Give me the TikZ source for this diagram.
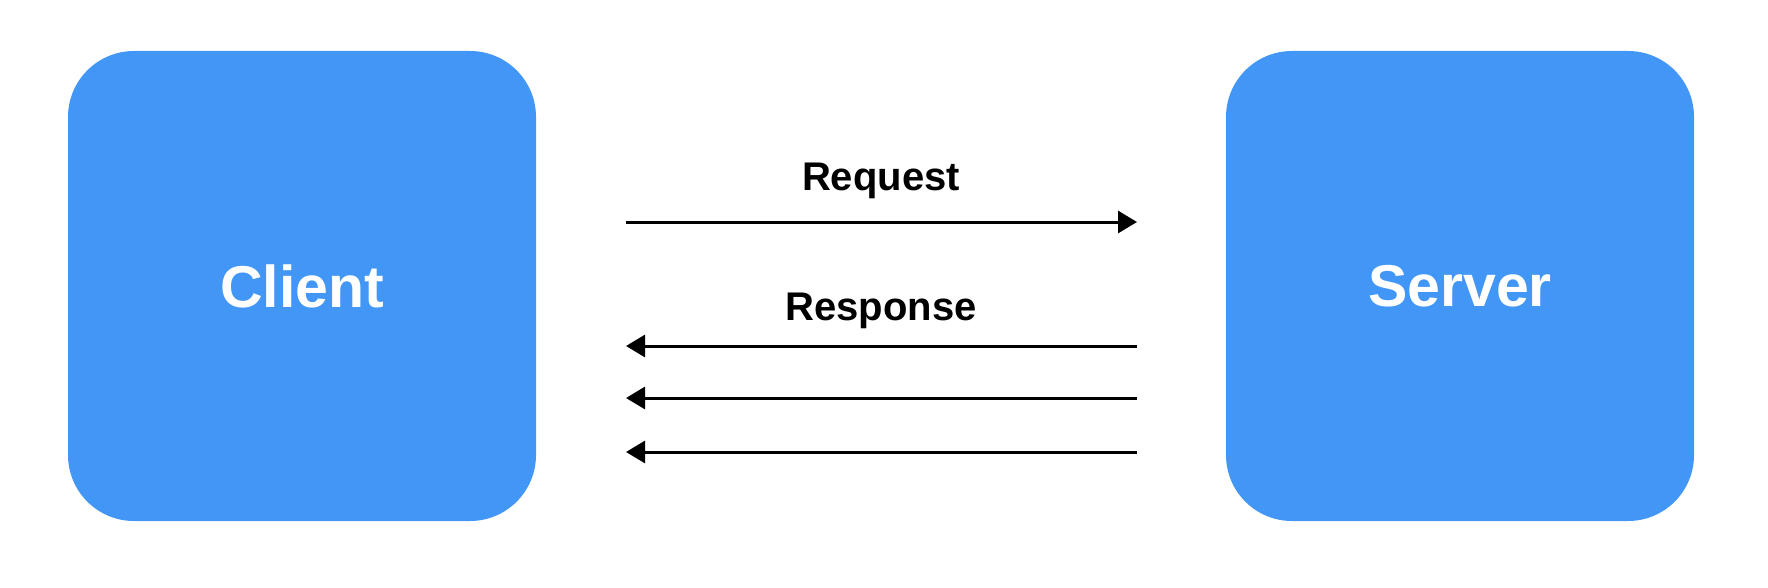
\documentclass[tikz,border=0pt]{standalone}
\usepackage{fontspec}
\setmainfont{Liberation Sans}
\usetikzlibrary{arrows.meta}
\definecolor{boxblue}{HTML}{4297F6}
\begin{document}
\begin{tikzpicture}[x=1pt,y=-1pt,
  box/.style={fill=boxblue,rounded corners=66pt,minimum width=468pt,minimum height=470pt,inner sep=0pt,
    text=white,font=\fontsize{59}{63}\selectfont\bfseries},
  lbl/.style={font=\fontsize{40}{44}\selectfont\bfseries,inner sep=0pt},
  msg/.style={line width=3pt,-{Triangle[length=19pt,width=22pt]}}]
\useasboundingbox (0,0) rectangle (1768,588);
\node[box] (client) at (302,286) {Client};
\node[box] (server) at (1460,286) {Server};
\coordinate (qa) at (626,222); \coordinate (qb) at (1137,222);
\coordinate (ra) at (1137,346); \coordinate (rb) at (626,346);
\coordinate (sa) at (1137,398); \coordinate (sb) at (626,398);
\coordinate (ta) at (1137,452); \coordinate (tb) at (626,452);
\draw[msg] (qa) -- (qb);
\draw[msg] (ra) -- (rb);
\draw[msg] (sa) -- (sb);
\draw[msg] (ta) -- (tb);
\node[lbl,anchor=base] (req) at (881,190) {Request};
\node[lbl,anchor=base] (resp) at (881,320) {Response};
\end{tikzpicture}
\end{document}
